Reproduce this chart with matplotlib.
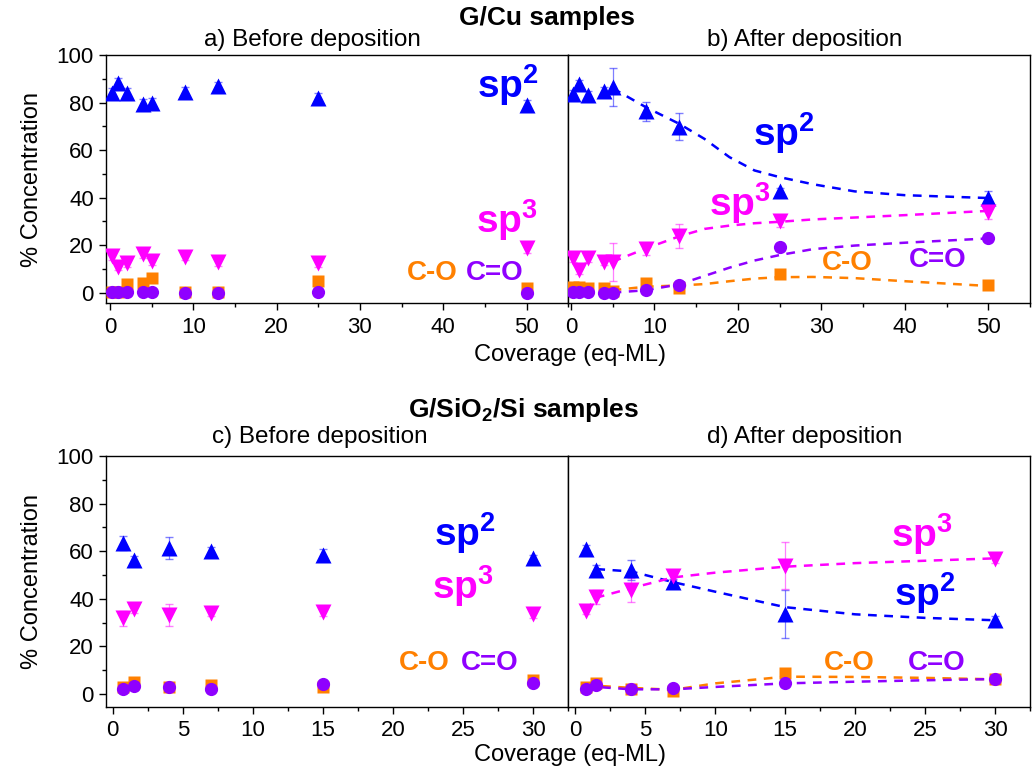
import matplotlib
matplotlib.use("Agg")
import matplotlib.pyplot as plt
from matplotlib.ticker import MultipleLocator

plt.rcParams['font.family'] = ['Liberation Sans', 'DejaVu Sans']
plt.rcParams['mathtext.fontset'] = 'custom'
plt.rcParams['mathtext.rm'] = 'Liberation Sans'
plt.rcParams['mathtext.bf'] = 'Liberation Sans:bold'

# colours per component
c_sp2 = "#0000FF"
c_sp3 = "#FF00FF"
c_co = "#FF8000"
c_cdo = "#8F00FF"

# ---- G/Cu, before deposition (a)
cu_x = [0.3, 1, 2, 4, 5, 9, 13, 25, 50]
a_sp2 = [84.0, 88.2, 84.0, 79.4, 80.0, 84.5, 86.8, 81.9, 79.0]
a_sp2_err = [2, 2, 2, 2, 2, 2, 2, 2, 2]
a_sp3 = [15.4, 10.9, 12.3, 16.2, 13.3, 15.1, 12.7, 12.3, 18.6]
a_sp3_err = [1.5, 1.5, 1.5, 1.5, 1.5, 1.5, 1.5, 1.5, 2]
a_co = [0.4, 0.4, 3.6, 4.2, 6.0, 0.2, 0.2, 4.9, 2.1]
a_cdo = [0.3, 0.3, 0.3, 0.4, 0.4, 0.0, 0.0, 0.3, 0.0]

# ---- G/Cu, after deposition (b)
b_sp2 = [83.6, 87.8, 83.2, 85.0, 86.4, 76.3, 69.9, 42.6, 39.8]
b_sp2_err = [1.5, 1.5, 1.5, 1.5, 8.0, 4.0, 5.5, 1.5, 3.0]
b_sp3 = [14.4, 9.5, 14.4, 13.0, 13.0, 18.3, 23.9, 30.1, 34.0]
b_sp3_err = [1.5, 1.5, 1.5, 1.5, 8.0, 2.5, 5.0, 2.5, 3.0]
b_co = [2.5, 2.5, 2.0, 1.8, 0.6, 4.2, 1.8, 7.7, 3.0]
b_cdo = [0.4, 0.4, 0.4, 0.0, 0.0, 1.1, 3.2, 19.0, 22.8]

# fitted trend curves (b)
bfit_x = [5, 9, 13, 16, 19, 22, 25, 29, 34, 40, 50]
bfit_sp2 = [86.0, 78.0, 71.0, 64.7, 57.0, 51.4, 48.6, 45.6, 42.6, 41.0, 39.8]
bfit_sp3 = [13.0, 18.6, 23.7, 26.8, 28.2, 29.2, 29.8, 30.8, 31.6, 32.6, 34.4]
bfit_co = [1.0, 2.5, 3.0, 3.6, 4.8, 5.9, 6.5, 6.6, 6.1, 4.8, 2.8]
bfit_cdo = [0.0, 1.0, 3.5, 7.0, 10.5, 13.5, 15.8, 18.3, 19.8, 21.0, 22.8]

# ---- G/SiO2/Si, before deposition (c)
si_x = [0.75, 1.5, 4, 7, 15, 30]
c_sp2v = [63.3, 56.3, 61.2, 60.2, 58.4, 57.0]
c_sp2_err = [3.0, 1.5, 4.6, 1.5, 2.5, 1.5]
c_sp3v = [31.8, 35.6, 33.2, 34.2, 34.6, 33.6]
c_sp3_err = [3.0, 1.5, 4.5, 1.5, 2.0, 1.5]
c_cov = [3.1, 4.9, 3.0, 3.8, 3.0, 5.9]
c_cdov = [2.1, 3.5, 3.0, 2.1, 4.1, 4.8]

# ---- G/SiO2/Si, after deposition (d)
d_sp2 = [60.9, 52.1, 52.1, 46.9, 33.6, 31.1]
d_sp2_err = [1.5, 2.0, 4.0, 1.5, 10.0, 1.5]
d_sp3 = [35.0, 40.9, 43.7, 49.6, 53.9, 56.6]
d_sp3_err = [1.5, 3.0, 5.0, 1.5, 9.8, 1.5]
d_co = [2.8, 4.5, 2.1, 1.4, 9.0, 6.2]
d_cdo = [2.1, 3.8, 2.1, 2.4, 4.5, 6.3]

dfit_x = [0.75, 1.5, 4, 7, 10, 15, 20, 25, 30]
dfit_sp2 = [None, 52.5, 51.5, 47.0, 43.0, 36.5, 33.5, 32.0, 31.0]
dfit_sp3 = [35.0, 40.5, 44.5, 49.0, 51.0, 53.5, 55.0, 56.0, 57.0]
dfit_co = [3.3, 3.5, 2.6, 1.8, 4.5, 7.3, 7.2, 6.8, 6.2]
dfit_cdo = [2.5, 3.0, 2.0, 2.0, 3.0, 4.5, 5.2, 5.8, 6.3]

fig = plt.figure(figsize=(10.36, 7.71), dpi=100)
ax_a = fig.add_axes([0.102, 0.6066, 0.4466, 0.3221])
ax_b = fig.add_axes([0.5486, 0.6066, 0.4456, 0.3221])
ax_c = fig.add_axes([0.102, 0.0834, 0.4466, 0.3252])
ax_d = fig.add_axes([0.5486, 0.0834, 0.4456, 0.3252])

ms = 11


def points(ax, x, sp2, sp3, co, cdo, sp2_err=None, sp3_err=None):
    if sp2_err is not None:
        ax.errorbar(x, sp2, yerr=sp2_err, fmt="none", ecolor=c_sp2, alpha=0.5,
                    elinewidth=0.9, capsize=3, zorder=2)
    if sp3_err is not None:
        ax.errorbar(x, sp3, yerr=sp3_err, fmt="none", ecolor=c_sp3, alpha=0.5,
                    elinewidth=0.9, capsize=3, zorder=2)
    ax.plot(x, sp2, "^", color=c_sp2, ms=ms, mec="none", zorder=4)
    ax.plot(x, sp3, "v", color=c_sp3, ms=ms, mec="none", zorder=4)
    ax.plot(x, co, "s", color=c_co, ms=ms - 2.5, mec="none", zorder=4)
    ax.plot(x, cdo, "o", color=c_cdo, ms=ms - 1.5, mec="none", zorder=5)


def fits(ax, x, curves):
    for y, col in curves:
        xs = [xv for xv, yv in zip(x, y) if yv is not None]
        ys = [yv for yv in y if yv is not None]
        ax.plot(xs, ys, color=col, lw=1.8, ls=(0, (3.5, 3)), zorder=3)


def label(ax, x, y, txt, col, size):
    ax.text(x, y, txt, color=col, fontsize=size, fontweight="bold",
            ha="center", va="center", zorder=6)


points(ax_a, cu_x, a_sp2, a_sp3, a_co, a_cdo, a_sp2_err, a_sp3_err)
points(ax_b, cu_x, b_sp2, b_sp3, b_co, b_cdo, b_sp2_err, b_sp3_err)
fits(ax_b, bfit_x, [(bfit_sp2, c_sp2), (bfit_sp3, c_sp3), (bfit_co, c_co), (bfit_cdo, c_cdo)])
points(ax_c, si_x, c_sp2v, c_sp3v, c_cov, c_cdov, c_sp2_err, c_sp3_err)
points(ax_d, si_x, d_sp2, d_sp3, d_co, d_cdo, d_sp2_err, d_sp3_err)
fits(ax_d, dfit_x, [(dfit_sp2, c_sp2), (dfit_sp3, c_sp3), (dfit_co, c_co), (dfit_cdo, c_cdo)])

sp2_txt = r"$\mathbf{sp^2}$"
sp3_txt = r"$\mathbf{sp^3}$"
lab = 28
lab_o = 20
label(ax_a, 47.8, 87.5, sp2_txt, c_sp2, lab)
label(ax_a, 47.6, 30.5, sp3_txt, c_sp3, lab)
label(ax_a, 38.7, 8.3, "C-O", c_co, lab_o)
label(ax_a, 46.2, 8.3, "C=O", c_cdo, lab_o)
label(ax_b, 25.5, 67, sp2_txt, c_sp2, lab)
label(ax_b, 20.3, 37.5, sp3_txt, c_sp3, lab)
label(ax_b, 33.1, 12.4, "C-O", c_co, lab_o)
label(ax_b, 43.9, 13.7, "C=O", c_cdo, lab_o)
label(ax_c, 25.1, 67.5, sp2_txt, c_sp2, lab)
label(ax_c, 25.0, 45.2, sp3_txt, c_sp3, lab)
label(ax_c, 22.2, 13, "C-O", c_co, lab_o)
label(ax_c, 26.9, 13, "C=O", c_cdo, lab_o)
label(ax_d, 24.8, 67, sp3_txt, c_sp3, lab)
label(ax_d, 25.0, 42.3, sp2_txt, c_sp2, lab)
label(ax_d, 19.6, 13, "C-O", c_co, lab_o)
label(ax_d, 25.8, 13, "C=O", c_cdo, lab_o)

for ax in (ax_a, ax_b):
    ax.set_ylim(-4.5, 100)
    ax.xaxis.set_major_locator(MultipleLocator(10))
    ax.xaxis.set_minor_locator(MultipleLocator(5))
ax_a.set_xlim(-0.5, 55)
ax_b.set_xlim(-0.3, 55)
for ax in (ax_c, ax_d):
    ax.set_ylim(-5.3, 100)
    ax.set_xlim(-0.5, 32.5)
    ax.xaxis.set_major_locator(MultipleLocator(5))
    ax.xaxis.set_minor_locator(MultipleLocator(2.5))

for ax in (ax_a, ax_b, ax_c, ax_d):
    ax.yaxis.set_major_locator(MultipleLocator(20))
    ax.yaxis.set_minor_locator(MultipleLocator(10))
    ax.tick_params(which="both", direction="out", labelsize=16, width=1)
    ax.tick_params(which="major", length=5)
    ax.tick_params(which="minor", length=3)
    ax.tick_params(axis="x", pad=4.5)
    for s in ax.spines.values():
        s.set_linewidth(1)

for ax in (ax_b, ax_d):
    ax.tick_params(axis="y", which="both", left=False, labelleft=False)

for ax in (ax_a, ax_c):
    ax.set_ylabel("% Concentration", fontsize=17, labelpad=10)

fig.text(0.528, 1 - 18 / 771, "G/Cu samples", fontsize=19, fontweight="bold",
         ha="center", va="center")
fig.text(312 / 1036, 1 - 40 / 771, "a) Before deposition", fontsize=17.5,
         ha="center", va="center")
fig.text(805 / 1036, 1 - 40 / 771, "b) After deposition", fontsize=17.5,
         ha="center", va="center")
fig.text(570 / 1036, 1 - 355 / 771, "Coverage (eq-ML)", fontsize=17,
         ha="center", va="center")
fig.text(0.505, 1 - 410 / 771, r"G/SiO$_\mathbf{2}$/Si samples", fontsize=19,
         fontweight="bold", ha="center", va="center")
fig.text(320 / 1036, 1 - 437 / 771, "c) Before deposition", fontsize=17.5,
         ha="center", va="center")
fig.text(805 / 1036, 1 - 437 / 771, "d) After deposition", fontsize=17.5,
         ha="center", va="center")
fig.text(570 / 1036, 1 - 755 / 771, "Coverage (eq-ML)", fontsize=17,
         ha="center", va="center")

fig.savefig("out.png", dpi=100)
